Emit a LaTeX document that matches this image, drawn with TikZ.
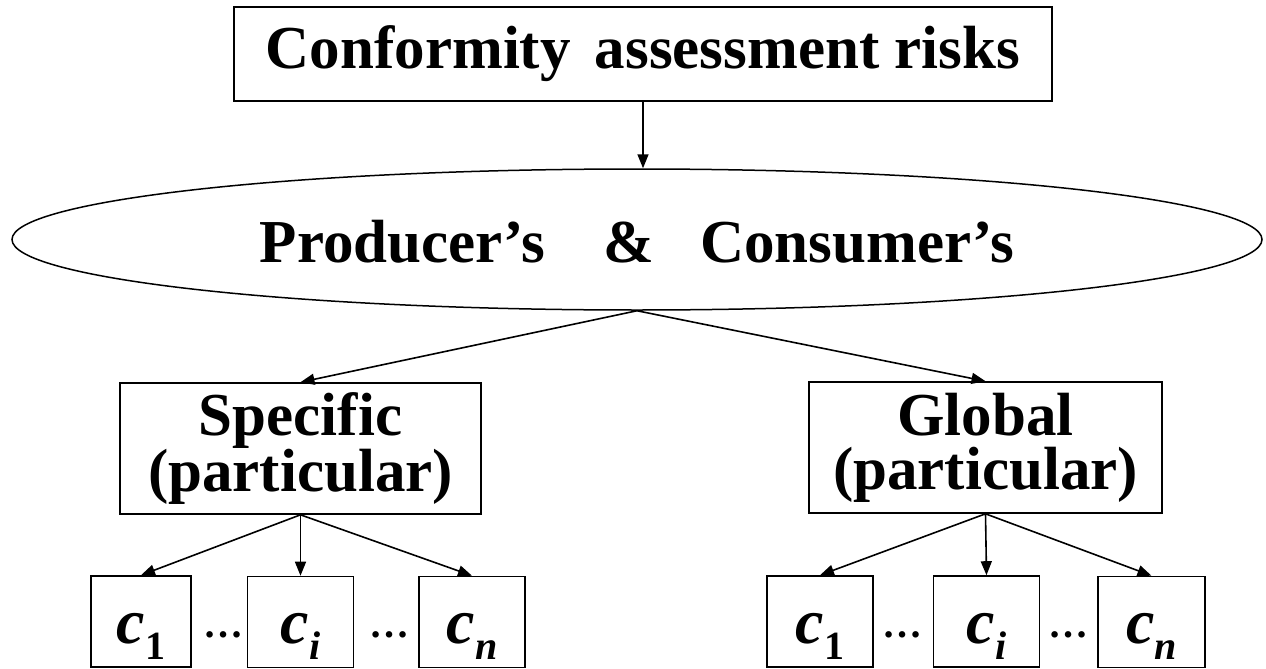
\documentclass[tikz,border=0pt]{standalone}
\usepackage{fontspec}
\setmainfont{Liberation Serif}
\usetikzlibrary{arrows.meta,shapes.geometric}
\newcommand{\bigtxt}{\fontsize{61}{54}\selectfont\bfseries}
\newcommand{\cvar}[1]{{\fontsize{64}{64}\selectfont\bfseries\itshape c}\raisebox{-16pt}{\fontsize{40}{40}\selectfont\bfseries #1}}
\tikzset{
  box/.style={draw, line width=1.6pt, inner sep=0pt, align=center, font=\bigtxt},
  cbox/.style={draw, line width=1.6pt, inner sep=0pt, minimum width=106pt, minimum height=91pt, text height=45pt, text depth=2pt},
  arr/.style={line width=1.6pt, -{Triangle[length=14pt,width=11pt]}},
  dots/.style={anchor=base, inner sep=0pt, font=\fontsize{40}{40}\selectfont\bfseries}
}
\begin{document}
\begin{tikzpicture}[x=1pt,y=-1pt]
\useasboundingbox (0,0) rectangle (1266,669);
% top box
\node[box, line width=2pt, minimum width=818pt, minimum height=93pt] (top) at (643,54) {Conformity\hspace{24pt}assessment risks};
% ellipse
\node[ellipse, draw, line width=1.5pt, inner sep=0pt, minimum width=1250pt, minimum height=141pt,
      text height=45pt, text depth=0pt, font=\bigtxt] (ell) at (637,239.5)
      {Producer’s\hspace{58pt}\&\hspace{46pt}Consumer’s};
% second level
\node[box, minimum width=361pt, minimum height=131pt] (spec) at (300.5,448.5) {Specific\\(particular)};
\node[box, minimum width=353pt, minimum height=131pt] (glob) at (985.5,447.5) {Global\\(particular)};
% leaves left
\node[cbox, minimum width=100pt] (sc1) at (141,621.5) {\cvar{1}};
\node[cbox] (sci) at (300.5,622) {\cvar{\itshape i}};
\node[cbox] (scn) at (472,622) {\cvar{\itshape n}};
% leaves right
\node[cbox] (gc1) at (820,621.5) {\cvar{1}};
\node[cbox] (gci) at (986.5,621.5) {\cvar{\itshape i}};
\node[cbox, minimum width=107pt] (gcn) at (1151.5,622) {\cvar{\itshape n}};
% dots
\node[dots] (sd1) at (223.5,637) {…};
\node[dots] (sd2) at (389,637) {…};
\node[dots] (gd1) at (902.5,637) {…};
\node[dots] (gd2) at (1068.5,637) {…};
% connectors
\draw[arr] (top.south) -- (top.south |- ell.north);
\draw[arr] (ell.south) -- (spec.north);
\draw[arr] (ell.south) -- (glob.north);
\draw[arr] (spec.south) -- (sc1.north);
\draw[arr] (spec.south) -- (sci.north);
\draw[arr] (spec.south) -- (scn.north);
\draw[arr] (glob.south) -- (gc1.north);
\draw[arr] (glob.south) -- (gci.north);
\draw[arr] (glob.south) -- (gcn.north);
\end{tikzpicture}
\end{document}
